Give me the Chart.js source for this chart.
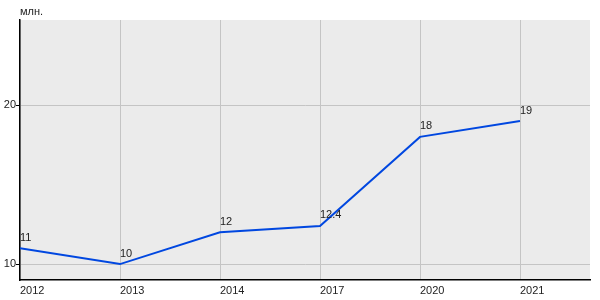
<!DOCTYPE html>
<html>
<head>
<meta charset="utf-8">
<script src="https://cdn.jsdelivr.net/npm/chart.js@4"></script>
<style>
  html, body { margin: 0; padding: 0; background: #fff; }
  #wrap { width: 600px; height: 300px; }
</style>
</head>
<body>
<div id="wrap"><canvas id="chart" width="600" height="300"></canvas></div>
<script>
// === Data ===
const years = ["2012", "2013", "2014", "2017", "2020", "2021"];
const values = [11, 10, 12, 12.4, 18, 19];
const yTicks = [10, 20];
const unitLabel = "млн.";

const points = values.map((v, i) => ({ x: i, y: v }));

// gray plot background + unit caption
const plotBg = {
  id: "plotBg",
  beforeDraw(chart) {
    const { ctx, chartArea: a } = chart;
    ctx.save();
    ctx.fillStyle = "#ebebeb";
    ctx.fillRect(a.left, a.top, a.right - a.left, a.bottom - a.top);
    ctx.restore();
  },
  afterDraw(chart) {
    const { ctx, chartArea: a } = chart;
    ctx.save();
    ctx.font = "11px 'Liberation Sans', Arial, sans-serif";
    ctx.fillStyle = "#222";
    ctx.textAlign = "left";
    ctx.textBaseline = "bottom";
    ctx.fillText(unitLabel, a.left, a.top - 3);
    ctx.restore();
  }
};

// value labels above-right of each point
const valueLabels = {
  id: "valueLabels",
  afterDatasetsDraw(chart) {
    const { ctx } = chart;
    const meta = chart.getDatasetMeta(0);
    ctx.save();
    ctx.font = "11px 'Liberation Sans', Arial, sans-serif";
    ctx.fillStyle = "#222";
    ctx.textAlign = "left";
    ctx.textBaseline = "bottom";
    meta.data.forEach((pt, i) => {
      ctx.fillText(String(values[i]), pt.x, pt.y - 5);
    });
    ctx.restore();
  }
};

new Chart(document.getElementById("chart"), {
  type: "line",
  data: {
    datasets: [{
      data: points,
      borderColor: "#0047e0",
      borderWidth: 2,
      pointRadius: 0,
      tension: 0,
      fill: false
    }]
  },
  options: {
    responsive: false,
    animation: false,
    layout: { padding: { top: 20, right: 10, left: 0, bottom: 0 } },
    plugins: { legend: { display: false }, tooltip: { enabled: false } },
    scales: {
      x: {
        type: "linear",
        min: 0,
        max: 5.7,
        afterBuildTicks: s => { s.ticks = years.map((_, i) => ({ value: i })); },
        afterFit: s => { s.height = 20; },
        border: { color: "#000", width: 1.5 },
        grid: { color: "#c4c4c4", drawTicks: false },
        ticks: {
          align: "start",
          padding: 4,
          color: "#222",
          font: { family: "'Liberation Sans', Arial, sans-serif", size: 11 },
          callback: v => years[v] ?? ""
        }
      },
      y: {
        min: 9,
        max: 25.35,
        afterBuildTicks: s => { s.ticks = yTicks.map(v => ({ value: v })); },
        afterFit: s => { s.width = 20; },
        border: { color: "#000", width: 1.5 },
        grid: { color: "#c4c4c4", tickLength: 4, tickColor: "#000" },
        ticks: {
          padding: 0,
          color: "#222",
          font: { family: "'Liberation Sans', Arial, sans-serif", size: 11 }
        }
      }
    }
  },
  plugins: [plotBg, valueLabels]
});
</script>
</body>
</html>
